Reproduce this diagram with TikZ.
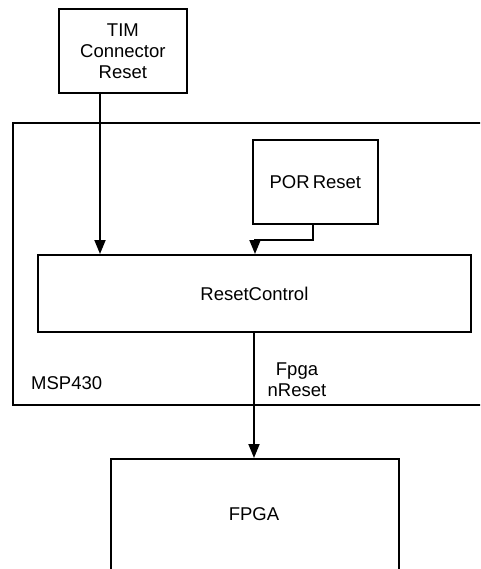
\documentclass[tikz,border=0pt]{standalone}
\usepackage{fontspec}
\setmainfont{Liberation Sans}
\usetikzlibrary{arrows.meta}
\begin{document}
\begin{tikzpicture}[x=1pt,y=-1pt,
  box/.style={draw,line width=1.8pt,inner sep=0pt,anchor=north west},
  lbl/.style={font=\fontsize{18.5}{21}\selectfont,align=center,inner sep=0pt},
  conn/.style={line width=1.8pt,-{Triangle[length=14pt,width=11pt]}}]
\useasboundingbox (0,0) rectangle (480,569);
\clip (0,0) rectangle (480,569);
\node[box,minimum width=473pt,minimum height=282pt] (msp) at (12,122) {};
\node[box,minimum width=128pt,minimum height=84pt] (tim) at (58,8) {};
\node[lbl] at (tim.center) {TIM\\Connector\\Reset};
\node[box,minimum width=125pt,minimum height=84pt] (por) at (252,139) {};
\node[lbl] at (por.center) {POR\,Reset};
\node[box,minimum width=433pt,minimum height=77pt] (rc) at (37,254) {};
\node[lbl] at (rc.center) {ResetControl};
\node[box,minimum width=288pt,minimum height=130pt] (fpga) at (110,458) {};
\node[lbl] at (254,514) {FPGA};
\node[lbl,anchor=west] (msplbl) at (31,383) {MSP430};
\node[lbl] (fn) at (297,380) {Fpga\\nReset};
\coordinate (t1) at (100,92);
\coordinate (t2) at (100,254);
\coordinate (p1) at (313,223);
\coordinate (p2) at (255,254);
\coordinate (f1) at (254,331);
\coordinate (f2) at (254,458);
\draw[conn] (t1) -- (t2);
\draw[conn] (p1) |- (255,240) -- (p2);
\draw[conn] (f1) -- (f2);
\end{tikzpicture}
\end{document}
